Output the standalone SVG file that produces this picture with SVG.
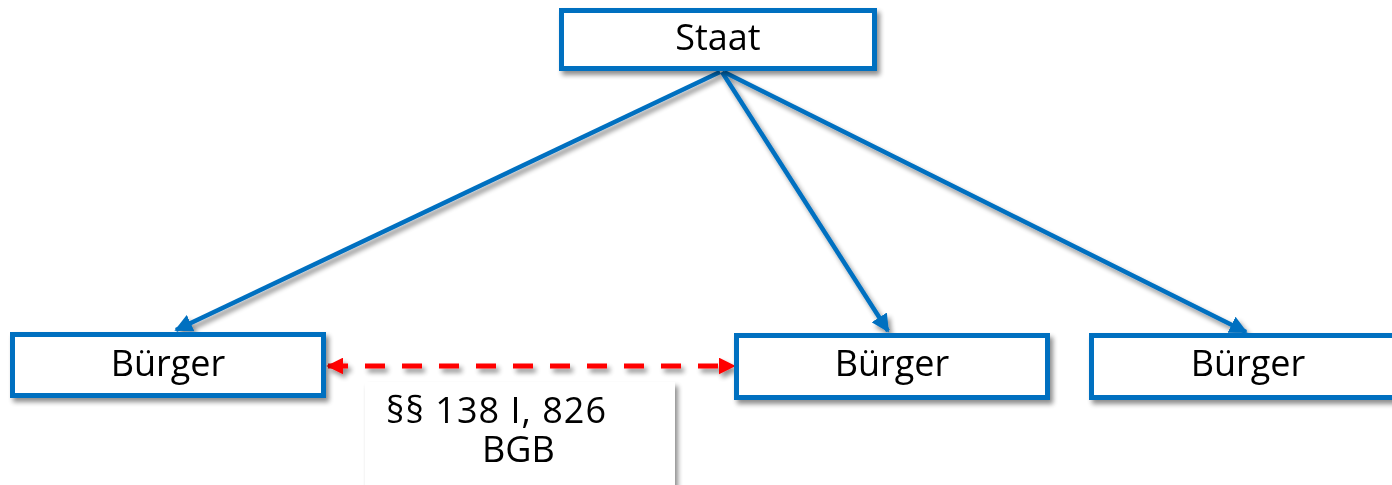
<svg xmlns="http://www.w3.org/2000/svg" width="1392" height="485" viewBox="0 0 1392 485">
<style>
.box{fill:#fff;stroke:#0070C0;stroke-width:5}
.t{font-family:"Open Sans","Noto Sans",sans-serif;font-size:36px;fill:#000;text-anchor:middle}
.lt{font-family:"Open Sans","Noto Sans",sans-serif;font-size:36px;fill:#000}
.blue{stroke:#0070C0;stroke-width:4.5;fill:none}
.red{stroke:#FF0000;stroke-width:5;fill:none;stroke-dasharray:20 17}
</style>
<defs>
<filter id="sh" x="-10%" y="-20%" width="130%" height="160%">
<feGaussianBlur in="SourceAlpha" stdDeviation="2.5"/>
<feOffset dx="3" dy="4" result="b"/>
<feComponentTransfer><feFuncA type="linear" slope="0.45"/></feComponentTransfer>
<feMerge><feMergeNode/><feMergeNode in="SourceGraphic"/></feMerge>
</filter>
<marker id="ab" viewBox="0 0 10 10" refX="9" refY="5" markerWidth="4" markerHeight="4" orient="auto">
<path d="M0,0 L10,5 L0,10 z" fill="#0070C0"/>
</marker>
<marker id="ar" viewBox="0 0 10 10" refX="9" refY="5" markerWidth="3.4" markerHeight="3.4" orient="auto-start-reverse">
<path d="M0,0 L10,5 L0,10 z" fill="#FF0000"/>
</marker>
</defs>
<g id="connectors" filter="url(#sh)">
<line class="blue" x1="720" y1="72" x2="176" y2="330" marker-end="url(#ab)"/>
<line class="blue" x1="722" y1="72" x2="888" y2="331" marker-end="url(#ab)"/>
<line class="blue" x1="724" y1="72" x2="1246" y2="332" marker-end="url(#ab)"/>
<line class="red" x1="328" y1="366" x2="734" y2="366" marker-start="url(#ar)" marker-end="url(#ar)"/>
</g>
<g id="staat" filter="url(#sh)">
<rect class="box" x="561.5" y="10.5" width="313" height="58"/>
<text class="t" x="718" y="50">Staat</text>
</g>
<g id="buerger1" filter="url(#sh)">
<rect class="box" x="12.5" y="334.5" width="311" height="61"/>
<text class="t" x="168" y="376">Bürger</text>
</g>
<g id="buerger2" filter="url(#sh)">
<rect class="box" x="736.5" y="335.5" width="311" height="62"/>
<text class="t" x="892" y="376">Bürger</text>
</g>
<g id="buerger3" filter="url(#sh)">
<rect class="box" x="1091.5" y="335.5" width="311" height="62"/>
<text class="t" x="1248" y="376">Bürger</text>
</g>
<g id="label" filter="url(#sh)">
<rect x="365" y="382" width="310" height="110" fill="#fff"/>
<text class="lt" x="386" y="423" textLength="220" lengthAdjust="spacing">§§ 138 I, 826</text>
<text class="lt" x="482" y="462">BGB</text>
</g>
</svg>
